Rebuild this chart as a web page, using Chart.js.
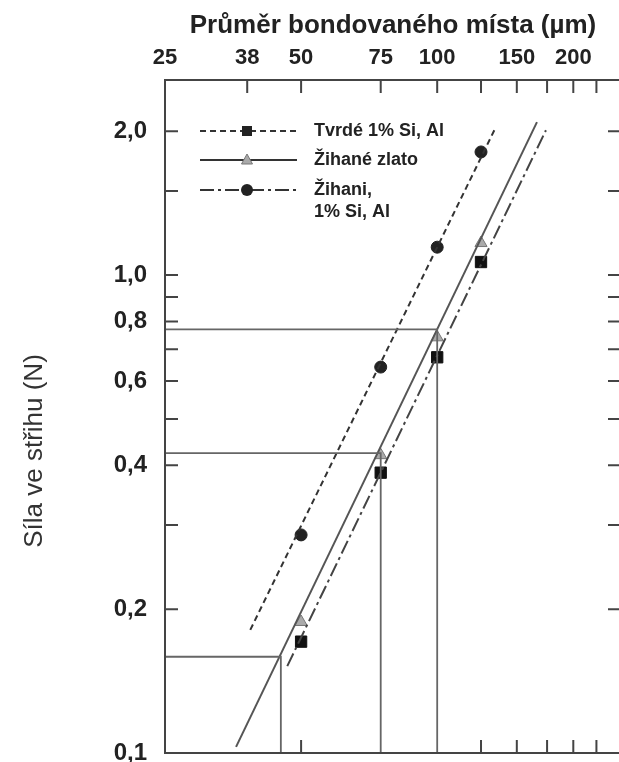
<!DOCTYPE html>
<html lang="cs">
<head>
<meta charset="utf-8">
<title>Síla ve střihu</title>
<script src="https://cdn.jsdelivr.net/npm/chart.js@4.4.0/dist/chart.umd.min.js"></script>
<style>
  html, body { margin: 0; padding: 0; background: #fff; overflow: hidden; }
  #wrap { position: relative; width: 625px; height: 762px; }
</style>
</head>
<body>
<div id="wrap"><canvas id="shearChart"></canvas></div>
<script>
// Measured points (bond diameter in µm, shear force in N)
const diameters = [50, 75, 100, 125];
const circleForce = [0.286, 0.642, 1.144, 1.81];
const triangleForce = [0.188, 0.42, 0.741, 1.167];
const squareForce = [0.171, 0.386, 0.673, 1.065];

// Fitted lines (start / end)
const dashedX = [38.6, 134.8];
const dashedY = [0.181, 2.04];
const solidX = [35.9, 166.2];
const solidY = [0.103, 2.09];
const dashDotX = [46.6, 174];
const dashDotY = [0.152, 2.01];

// Reading guides: horizontal from the axis to the line, then straight down
const guideX = [100, 75, 45.1];
const guideY = [0.77, 0.424, 0.159];

// Axes
const xLabelTicks = [25, 38, 50, 75, 100, 150, 200];
const xTopMarks = [38, 50, 75, 100, 125, 150, 175, 200, 225];
const xBottomMarks = [50, 125, 150, 175, 200, 225];
const yLabelTicks = [0.1, 0.2, 0.4, 0.6, 0.8, 1.0, 2.0];
const yMarks = [0.2, 0.3, 0.4, 0.5, 0.6, 0.7, 0.8, 0.9, 1.0, 1.5, 2.0];

const legendItems = [
  { text: ['Tvrdé 1% Si, Al'], dash: [6, 4], marker: 'rect' },
  { text: ['Žihané zlato'], dash: [], marker: 'triangle' },
  { text: ['Žihani,', '1% Si, Al'], dash: [14, 4, 3, 4], marker: 'circle' }
];

const FONT = "'Liberation Sans', Arial, sans-serif";
Chart.defaults.font.family = FONT;
Chart.defaults.color = '#222';

const toPoints = (xs, ys) => xs.map((x, i) => ({ x, y: ys[i] }));

const lineDs = (xs, ys, dash, color) => ({
  type: 'line',
  data: toPoints(xs, ys),
  borderColor: color,
  borderWidth: 2,
  borderDash: dash,
  pointRadius: 0,
  fill: false
});

const markerDs = (ys, style, fill, border, radius) => ({
  type: 'scatter',
  data: toPoints(diameters, ys),
  pointStyle: style,
  pointRadius: radius,
  backgroundColor: fill,
  borderColor: border,
  borderWidth: 1
});

const guideDs = guideX.map((gx, i) => ({
  type: 'line',
  data: [{ x: 25, y: guideY[i] }, { x: gx, y: guideY[i] }, { x: gx, y: 0.1 }],
  borderColor: '#666',
  borderWidth: 1.8,
  pointRadius: 0,
  fill: false
}));

// Inward tick marks and the plot frame
const frameTicks = {
  id: 'frameTicks',
  afterDatasetsDraw(chart) {
    const { ctx, chartArea: a, scales: { x, y } } = chart;
    const len = 13;
    ctx.save();
    ctx.strokeStyle = '#444';
    ctx.lineWidth = 2;
    ctx.strokeRect(a.left, a.top, a.right - a.left, a.bottom - a.top);
    ctx.beginPath();
    xTopMarks.forEach(v => {
      const px = x.getPixelForValue(v);
      ctx.moveTo(px, a.top);
      ctx.lineTo(px, a.top + len);
    });
    xBottomMarks.forEach(v => {
      const px = x.getPixelForValue(v);
      ctx.moveTo(px, a.bottom);
      ctx.lineTo(px, a.bottom - len);
    });
    yMarks.forEach(v => {
      const py = y.getPixelForValue(v);
      ctx.moveTo(a.left, py);
      ctx.lineTo(a.left + len, py);
      ctx.moveTo(a.right, py);
      ctx.lineTo(a.right - len, py);
    });
    ctx.stroke();
    ctx.restore();
  }
};

const drawMarker = (ctx, type, cx, cy) => {
  ctx.beginPath();
  if (type === 'rect') {
    ctx.fillStyle = '#222';
    ctx.fillRect(cx - 5, cy - 5, 10, 10);
    return;
  }
  if (type === 'triangle') {
    ctx.moveTo(cx, cy - 6);
    ctx.lineTo(cx + 5.5, cy + 4);
    ctx.lineTo(cx - 5.5, cy + 4);
    ctx.closePath();
    ctx.fillStyle = '#aaa';
    ctx.strokeStyle = '#777';
    ctx.lineWidth = 1;
    ctx.fill();
    ctx.stroke();
    return;
  }
  ctx.arc(cx, cy, 6, 0, Math.PI * 2);
  ctx.fillStyle = '#222';
  ctx.fill();
};

// Legend inside the plot plus the rotated y title
const extras = {
  id: 'extras',
  afterDraw(chart) {
    const { ctx } = chart;
    ctx.save();
    const rowsY = [131, 160, 190];
    legendItems.forEach((item, i) => {
      const ly = rowsY[i];
      ctx.beginPath();
      ctx.setLineDash(item.dash);
      ctx.strokeStyle = '#333';
      ctx.lineWidth = 2;
      ctx.moveTo(200, ly);
      ctx.lineTo(297, ly);
      ctx.stroke();
      ctx.setLineDash([]);
      drawMarker(ctx, item.marker, 247, ly);
      ctx.fillStyle = '#222';
      ctx.font = 'bold 18px ' + FONT;
      ctx.textAlign = 'left';
      ctx.textBaseline = 'middle';
      item.text.forEach((t, j) => ctx.fillText(t, 314, ly + j * 22));
    });

    ctx.translate(35, 451);
    ctx.rotate(-Math.PI / 2);
    ctx.font = '26px ' + FONT;
    ctx.fillStyle = '#333';
    ctx.textAlign = 'center';
    ctx.textBaseline = 'middle';
    ctx.fillText('Síla ve střihu (N)', 0, 0);
    ctx.restore();
  }
};

const ctx = document.getElementById('shearChart').getContext('2d');
new Chart(ctx, {
  type: 'scatter',
  data: {
    datasets: [
      ...guideDs,
      lineDs(dashedX, dashedY, [6, 4], '#333'),
      lineDs(solidX, solidY, [], '#555'),
      lineDs(dashDotX, dashDotY, [14, 4, 3, 4], '#444'),
      markerDs(circleForce, 'circle', '#222', '#222', 6),
      markerDs(triangleForce, 'triangle', '#aaa', '#777', 7),
      markerDs(squareForce, 'rect', '#111', '#111', 8)
    ]
  },
  options: {
    responsive: true,
    maintainAspectRatio: false,
    animation: false,
    devicePixelRatio: 1,
    layout: { autoPadding: false, padding: { top: 0, left: 0, right: 4, bottom: 9 } },
    plugins: {
      legend: { display: false },
      tooltip: { enabled: false }
    },
    scales: {
      x: {
        type: 'logarithmic',
        position: 'top',
        min: 25,
        max: 255,
        grid: { display: false },
        border: { display: false },
        afterBuildTicks: scale => { scale.ticks = xLabelTicks.map(v => ({ value: v })); },
        afterFit: scale => {
          scale.height = 80;
          scale.paddingLeft = 0;
          scale.paddingRight = 0;
        },
        ticks: {
          autoSkip: false,
          maxRotation: 0,
          padding: 1,
          color: '#222',
          font: { size: 22, weight: 'bold' },
          callback: v => String(v)
        },
        title: {
          display: true,
          text: 'Průměr bondovaného místa (µm)',
          color: '#222',
          font: { size: 26, weight: 'bold' },
          padding: { top: 10, bottom: 0 }
        }
      },
      y: {
        type: 'logarithmic',
        min: 0.1,
        max: 2.56,
        grid: { display: false },
        border: { display: false },
        afterBuildTicks: scale => { scale.ticks = yLabelTicks.map(v => ({ value: v })); },
        afterFit: scale => {
          scale.width = 165;
          scale.paddingTop = 0;
          scale.paddingBottom = 0;
        },
        ticks: {
          autoSkip: false,
          padding: 10,
          color: '#222',
          font: { size: 24, weight: 'bold' },
          callback: v => Number(v).toFixed(1).replace('.', ',')
        }
      }
    }
  },
  plugins: [frameTicks, extras]
});
</script>
</body>
</html>
